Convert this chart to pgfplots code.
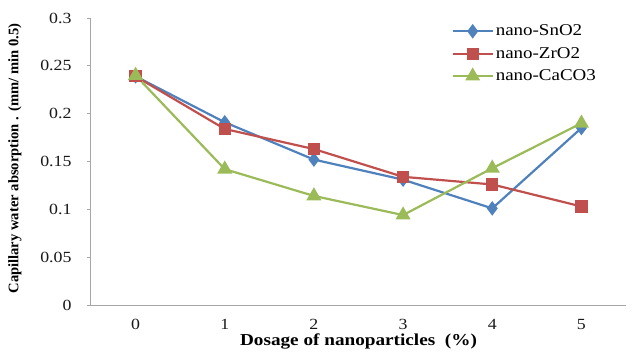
\documentclass[border=0pt]{standalone}
\usepackage{fontspec}
\setmainfont{Liberation Serif}[FakeStretch=1.15]
\newfontfamily\plainserif{Liberation Serif}
\usepackage{pgfplots}
\pgfplotsset{compat=1.18}

\definecolor{snblue}{HTML}{4F81BD}
\definecolor{zrred}{HTML}{C0504D}
\definecolor{cagreen}{HTML}{9BBB59}
\definecolor{axisgray}{HTML}{A6A6A6}

\begin{document}
\begin{tikzpicture}[x=1pt,y=1pt]
\begin{axis}[
  name=main,
  scale only axis,
  width=535pt, height=287pt,
  xmin=-0.5, xmax=5.5,
  ymin=0, ymax=0.3,
  xtick={0,1,2,3,4,5},
  ytick={0,0.05,0.1,0.15,0.2,0.25,0.3},
  yticklabels={0,0.05,0.1,0.15,0.2,0.25,0.3},
  xticklabels={0,1,2,3,4,5},
  axis x line*=bottom,
  axis y line*=left,
  axis line style={axisgray, line width=1pt, -},
  x tick style={draw=none},
  y tick style={axisgray, line width=0.8pt},
  tick align=outside,
  major tick length=4pt,
  tick label style={font=\fontsize{15.5}{18}\selectfont, text=black!90},
  xticklabel style={anchor=center, inner ysep=1pt, yshift=-15pt},
  yticklabel style={anchor=east, xshift=-12pt},
  xlabel={\textbf{Dosage of nanoparticles \ (\%)}},
  ylabel={\plainserif\bfseries Capillary water absorption . (mm/ min 0.5)},
  xlabel style={font=\fontsize{16.7}{19}\selectfont, inner ysep=1pt,
    at={(axis description cs:0.5,0)}, anchor=center, yshift=-36pt},
  ylabel style={font=\fontsize{14.6}{17}\selectfont,
    at={(axis description cs:0,0.51)}, anchor=center, yshift=76pt},
  legend style={draw=none, fill=none, at={(0.668,0.99)}, anchor=north west,
    font=\fontsize{16.5}{18}\selectfont, row sep=6pt},
  legend cell align=left,
  legend image code/.code={
    \draw[#1, mark repeat=2, mark phase=2] plot coordinates {(0pt,0pt) (20pt,0pt) (40pt,0pt)};},
  every axis plot/.append style={line width=2.2pt},
]
\addplot[snblue, mark=diamond*, mark size=5.5pt, mark options={solid, fill=snblue}]
  coordinates {(0,0.239) (1,0.191) (2,0.152) (3,0.131) (4,0.101) (5,0.185)};
\addlegendentry{nano-SnO2}
\addplot[zrred, mark=square*, mark size=5pt, mark options={solid, fill=zrred}]
  coordinates {(0,0.239) (1,0.184) (2,0.163) (3,0.134) (4,0.126) (5,0.103)};
\addlegendentry{nano-ZrO2}
\addplot[cagreen, mark=triangle*, mark size=6.5pt, mark options={solid, fill=cagreen}]
  coordinates {(0,0.240) (1,0.142) (2,0.114) (3,0.094) (4,0.143) (5,0.190)};
\addlegendentry{nano-CaCO3}
\end{axis}
\path (main.south west) ++(-91pt,-46pt);
\path (main.north east) ++(8pt,18pt);
\end{tikzpicture}
\end{document}
